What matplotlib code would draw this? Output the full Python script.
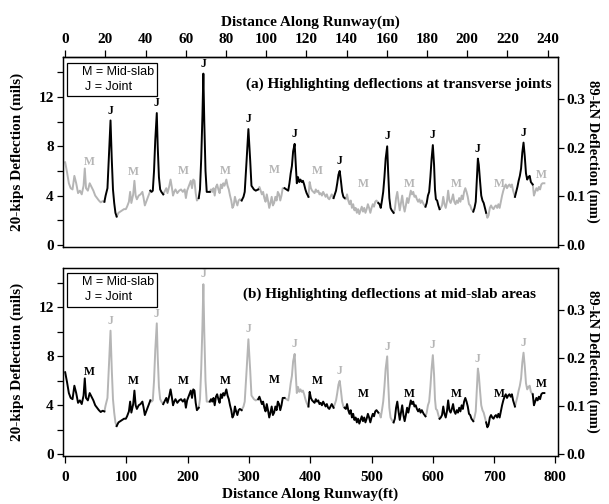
import numpy as np
import matplotlib
matplotlib.use('Agg')
import matplotlib.pyplot as plt
from matplotlib.patches import Rectangle
from matplotlib.ticker import FormatStrFormatter

# deflection profile along the runway (ft, mils)
dist_ft = [0, 3, 6, 9, 12, 15, 18, 21, 24, 27, 30, 32, 34, 37, 40, 43, 46, 49, 52, 55, 58, 61, 64,
           66, 69, 71, 74, 76, 78, 80, 82, 84,
           87, 90, 93, 96, 99, 101, 104, 106, 108, 111, 113, 115, 117, 120, 123, 126, 128, 130, 133, 136, 139,
           141, 143, 145, 147, 149.5, 151, 153, 155, 157, 160,
           162, 165, 167, 170, 172, 174, 176, 178, 180, 183, 186, 189, 192, 195, 197, 199, 202, 205, 207, 209,
           211, 213, 215, 218,
           220, 222, 224, 225.5, 227, 229, 231, 234, 236,
           238, 240, 242, 244, 246, 248, 250, 252, 254, 256, 258, 260, 263, 265, 267, 269, 271, 273, 275, 277,
           279, 281, 283, 285, 288,
           291, 293, 296, 299, 302, 304, 308, 311, 315,
           317, 319, 321, 323, 325, 327, 329, 331, 333, 335, 337, 339, 341, 343, 345, 347, 349, 351, 353, 355, 358,
           361, 364, 366, 368, 370, 372, 374.5, 376, 378, 380, 382, 384, 386, 388, 390, 392, 394, 397,
           399, 401, 403, 405, 407, 409, 411, 413, 415, 417, 419, 421, 423, 425, 427, 429, 431, 433, 435, 438,
           440, 442, 444, 446, 448, 450, 452, 454, 456,
           458, 460, 462, 464, 466, 468, 470, 472, 474, 476, 478, 480, 482, 484, 486, 488, 490, 492, 494, 496,
           498, 500, 502, 504, 506, 508, 511,
           513, 515, 517, 519, 521, 523, 525.5, 527, 529, 531, 533, 536,
           538, 540, 542, 544, 546, 548, 550, 552, 554, 556, 558, 560, 562, 564, 566, 568, 570, 572, 574, 576,
           578, 580, 582, 585, 588,
           590, 592, 594, 596, 598, 600, 602, 603.5, 605, 607, 609, 611,
           613, 615, 617, 619, 621, 623, 625, 627, 629, 631, 633, 635, 637, 639, 641, 643, 645, 647, 649, 651,
           653, 655, 657, 659, 661, 663, 666,
           668, 670, 672, 673.5, 675, 677, 679, 681, 683, 685, 687,
           689, 691, 693, 695, 697, 699, 701, 703, 705, 707, 709, 711, 713, 715, 717, 719, 721, 723, 725, 727,
           729, 731, 734,
           736, 738, 740, 742, 744, 746, 748, 750, 752, 754, 756, 758, 760, 763,
           765, 767, 769, 771, 773, 775, 777, 779, 782]
defl_mils = [6.7, 5.9, 5.0, 4.6, 4.5, 5.6, 5.0, 4.2, 4.4, 4.1, 4.8, 6.2, 4.6, 4.4, 5.0, 4.7, 4.4, 4.0, 3.8, 3.6,
             3.45, 3.55, 3.5,
             4.0, 4.6, 6.8, 10.1, 7.0, 4.5, 3.4, 2.6, 2.3,
             2.6, 2.7, 2.8, 2.9, 2.9, 3.1, 3.5, 4.3, 3.4, 4.1, 5.2, 4.0, 3.7, 4.0, 4.1, 4.3, 3.8, 3.2, 3.6, 4.0, 4.4,
             4.3, 4.4, 6.0, 8.5, 10.7, 8.0, 5.5, 4.5, 4.3, 4.1,
             4.3, 4.6, 4.2, 4.8, 5.3, 4.7, 4.0, 4.3, 4.5, 4.2, 4.4, 4.5, 4.3, 4.5, 3.8, 4.4, 4.8, 5.2, 4.6, 5.3,
             5.2, 4.2, 3.6, 3.8,
             4.5, 7.0, 10.5, 13.9, 10.0, 6.0, 4.3, 4.3, 4.3,
             4.5, 4.3, 4.6, 4.0, 4.7, 4.9, 4.5, 4.2, 4.9, 4.6, 5.0, 4.8, 5.3, 4.8, 4.5, 4.0, 3.6, 3.0, 3.2, 3.9,
             3.5, 3.2, 3.6, 3.7, 3.6,
             3.9, 4.3, 6.8, 9.4, 6.8, 4.8, 4.5, 4.4, 4.5,
             4.7, 4.4, 4.1, 4.3, 3.8, 3.5, 4.1, 3.6, 3.0, 3.4, 3.9, 3.2, 3.4, 3.9, 3.6, 4.3, 4.1, 3.6, 4.0, 4.6, 4.6,
             4.5, 4.4, 5.0, 5.8, 6.4, 7.6, 8.2, 6.8, 5.0, 5.5, 5.1, 5.3, 5.1, 5.2, 4.9, 4.5, 4.2, 3.9,
             5.1, 4.6, 4.4, 4.3, 4.2, 4.5, 4.3, 4.4, 4.1, 4.2, 4.0, 4.3, 4.1, 3.9, 4.1, 3.8, 3.7, 3.9, 4.1, 3.8,
             4.1, 4.4, 5.0, 5.7, 6.0, 5.2, 4.3, 3.9, 3.8,
             3.7, 4.1, 3.6, 3.3, 3.6, 3.0, 3.3, 2.8, 3.0, 2.6, 2.9, 2.5, 2.8, 3.1, 2.7, 3.0, 2.6, 2.9, 3.3, 3.0,
             2.6, 3.0, 3.3, 3.1, 3.5, 3.6, 3.4,
             3.3, 3.0, 3.6, 4.3, 5.5, 7.0, 8.0, 6.0, 3.8, 3.0, 2.8, 2.6,
             2.9, 3.8, 4.3, 3.5, 2.8, 3.4, 4.0, 3.2, 2.7, 3.2, 3.8, 3.4, 3.9, 4.4, 4.1, 4.3, 3.9, 4.0, 3.7, 3.5,
             3.7, 3.4, 3.6, 3.3, 3.1,
             3.4, 4.0, 4.3, 5.5, 7.0, 8.1, 6.5, 4.5, 3.7, 3.6, 3.2, 2.9,
             3.0, 3.2, 3.9, 3.3, 3.0, 3.5, 4.4, 3.6, 3.4, 3.7, 4.1, 3.5, 3.3, 3.6, 3.4, 3.8, 3.5, 4.0, 3.7, 4.3,
             4.6, 4.3, 3.9, 3.3, 3.2, 2.9, 2.7,
             3.0, 3.5, 5.5, 7.0, 6.5, 5.2, 4.0, 3.6, 3.4, 3.0, 2.6,
             2.2, 2.4, 3.0, 3.2, 3.0, 2.9, 3.1, 3.2, 3.0, 3.3, 3.0, 3.5, 4.0, 4.4, 4.7, 4.9, 4.6, 4.8, 4.9, 4.7,
             4.9, 4.4, 3.9,
             4.3, 4.7, 5.2, 5.6, 6.2, 7.5, 8.3, 7.2, 5.8, 5.3, 5.5, 5.6, 5.1, 4.9,
             4.0, 4.3, 4.6, 4.4, 4.7, 4.5, 4.9, 5.0, 5.0]

# transverse joint zones (ft)
joint_zones = [(64, 84), (139, 160), (218, 236), (288, 315), (358, 397),
               (438, 456), (511, 536), (588, 611), (666, 687), (734, 763)]

# mid-slab label positions (ft, mils)
mid_lbl_ft = [40, 112, 193, 262, 341, 411, 486, 562, 639, 708, 777]
mid_lbl_mils = [6.7, 5.95, 6.0, 6.0, 6.05, 6.0, 4.9, 4.9, 4.9, 4.9, 5.7]

titles = ['(a) Highlighting deflections at transverse joints',
          '(b) Highlighting deflections at mid-slab areas']

FT2M = 0.3048
MIL2MM = 0.0254
GRAY = '#b5b5b5'
serif = 'Liberation Serif'

x = np.array(dist_ft)
y = np.array(defl_mils)

bounds = [x.min()] + [b for z in joint_zones for b in z] + [x.max()]
segments = []
for i in range(len(bounds) - 1):
    m = (x >= bounds[i]) & (x <= bounds[i + 1])
    segments.append((x[m], y[m], i % 2 == 1))

plt.rcParams['font.family'] = serif
plt.rcParams['font.weight'] = 'bold'
plt.rcParams['axes.linewidth'] = 0.9

fig = plt.figure(figsize=(6.09, 5.04), dpi=100)
ax1 = fig.add_axes([0.103, 0.5105, 0.813, 0.3764])
ax2 = fig.add_axes([0.103, 0.0952, 0.813, 0.3736])

ylo, yhi = -0.15, 15.25
for k, ax in enumerate([ax1, ax2]):
    for sx, sy, is_joint in segments:
        dark = is_joint if k == 0 else not is_joint
        ax.plot(sx, sy, color='black' if dark else GRAY, lw=1.4, zorder=3 if dark else 2)

    lblc_j = 'black' if k == 0 else GRAY
    lblc_m = GRAY if k == 0 else 'black'
    for sx, sy, is_joint in segments:
        if is_joint:
            i = np.argmax(sy)
            ax.text(sx[i], sy[i] + 0.8, 'J', color=lblc_j, fontsize=8.5, ha='center', va='center')
    for fx, fy in zip(mid_lbl_ft, mid_lbl_mils):
        ax.text(fx, fy, 'M', color=lblc_m, fontsize=8.5, ha='center', va='center')

    ax.set_xlim(-4, 804)
    ax.set_ylim(ylo, yhi)
    ax.set_yticks([0, 4, 8, 12])
    ax.set_yticks([2, 6, 10, 14], minor=True)
    ax.tick_params(axis='y', which='both', direction='out', length=4.5, width=0.9, labelsize=11, pad=2)
    ax.set_ylabel('20-kips Deflection (mils)', fontsize=11, fontweight='bold', labelpad=10)

    axr = ax.twinx()
    axr.set_ylim(ylo * MIL2MM, yhi * MIL2MM)
    axr.set_yticks([0.0, 0.1, 0.2, 0.3])
    axr.yaxis.set_major_formatter(FormatStrFormatter('%.1f'))
    axr.tick_params(axis='y', direction='out', length=4.5, width=0.9, labelsize=11, pad=2)
    axr.set_ylabel('89-kN Deflection (mm)', fontsize=10.5, fontweight='bold', rotation=270, labelpad=0,
                   va='bottom')

    # legend box
    ax.add_patch(Rectangle((0.008, 0.794), 0.182, 0.176, transform=ax.transAxes,
                           fc='white', ec='black', lw=0.9, zorder=5))
    ax.text(0.038, 0.923, 'M = Mid-slab', transform=ax.transAxes, fontsize=9,
            family='Liberation Sans', fontweight='normal', va='center', zorder=6)
    ax.text(0.045, 0.843, 'J = Joint', transform=ax.transAxes, fontsize=9,
            family='Liberation Sans', fontweight='normal', va='center', zorder=6)

    ax.text(0.988 if k == 0 else 0.955, 0.858, titles[k], transform=ax.transAxes,
            fontsize=11, ha='right', va='center')

ax1.tick_params(axis='x', which='both', bottom=False, labelbottom=False)
top = ax1.secondary_xaxis('top', functions=(lambda v: v * FT2M, lambda v: v / FT2M))
top.set_xticks(np.arange(0, 241, 20))
top.tick_params(direction='out', length=5, width=0.9, labelsize=11, pad=3)
top.set_xlabel('Distance Along Runway(m)', fontsize=11, fontweight='bold', labelpad=5)

ax2.set_xticks(np.arange(0, 801, 100))
ax2.tick_params(axis='x', direction='out', length=5, width=0.9, labelsize=11, pad=6)
ax2.set_xlabel('Distance Along Runway(ft)', fontsize=11, fontweight='bold', labelpad=2)

fig.savefig('out.png', dpi=100)
